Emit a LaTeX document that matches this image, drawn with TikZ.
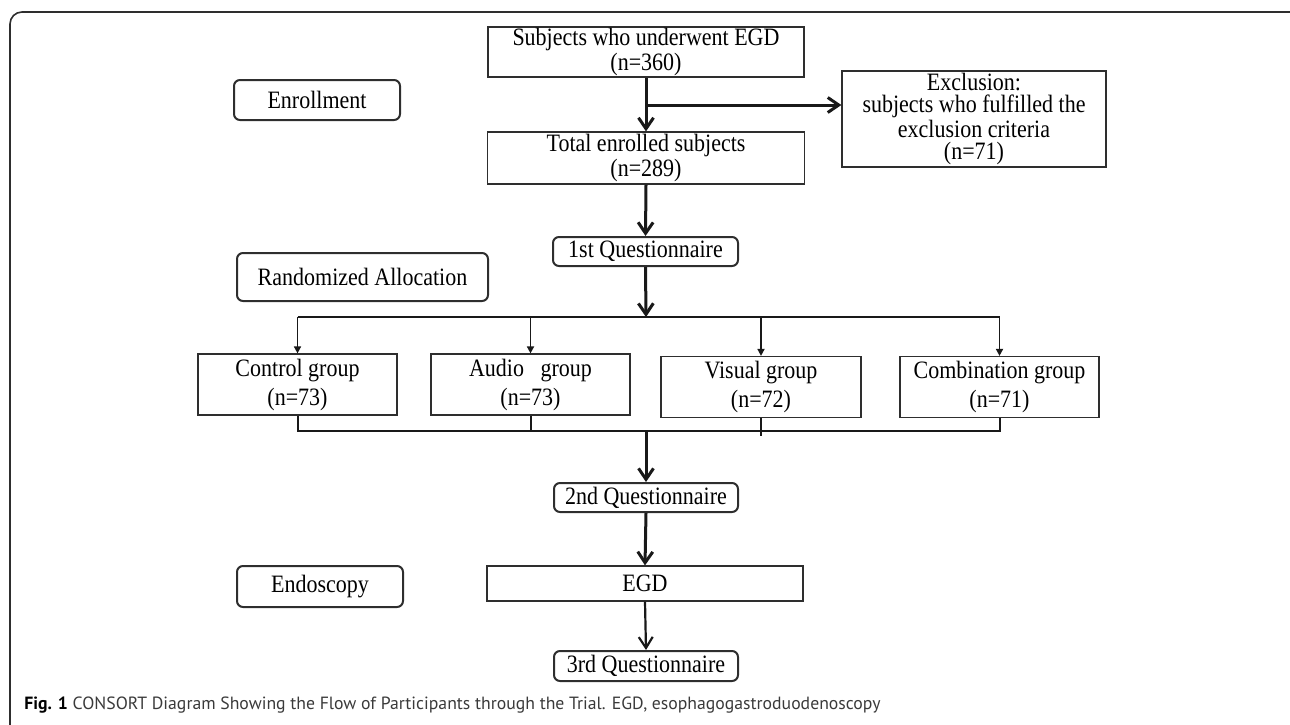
\documentclass[tikz,border=0pt]{standalone}
\usepackage{fontspec}
\setmainfont{Liberation Serif}[FakeStretch=0.88]
\newfontfamily\capfont{PT Sans}
\usetikzlibrary{arrows.meta}
\definecolor{bd}{HTML}{2E2E2E}
\definecolor{captxt}{HTML}{3A3A3A}
\begin{document}
\begin{tikzpicture}[x=0.5pt,y=-0.5pt,
  box/.style={draw=bd, line width=0.6pt, align=center, inner sep=0pt,
    font=\fontsize{12.5}{11}\selectfont},
  rbox/.style={box, rounded corners=3pt, line width=1pt},
  grp/.style={box, font=\fontsize{12.5}{14.5}\selectfont},
  tarr/.style={draw=black!90, line width=1.5pt, -{Straight Barb[length=5.5pt,width=7.5pt]}},
  marr/.style={draw=black!90, line width=1.1pt, -{Straight Barb[length=5.5pt,width=7pt]}},
  sarr/.style={draw=black!90, line width=0.8pt, -{Triangle[length=3.5pt,width=3.5pt]}},
  link/.style={draw=black!90, line width=1pt},
  frame/.style={draw=bd, line width=0.8pt, rounded corners=6pt}
]
\useasboundingbox (0,0) rectangle (1290,724);
\clip (0,0) rectangle (1290,724);
\draw[frame] (10,12) rectangle (1302,744);

% stage labels
\node[rbox, minimum width=83pt, minimum height=20pt] (enr) at (317,100) {Enrollment};
\node[rbox, minimum width=125.5pt, minimum height=24pt] (rand) at (362.5,277) {Randomized Allocation};
\node[rbox, minimum width=83pt, minimum height=20.5pt] (endo) at (320,586.5) {Endoscopy};

% main flow
\node[box, minimum width=158pt, minimum height=25pt] (top) at (646,52) {Subjects who underwent EGD\\(n=360)};
\node[box, minimum width=132pt, minimum height=48pt] (excl) at (974,119) {Exclusion:\\subjects who fulfilled the\\exclusion criteria\\(n=71)};
\node[box, minimum width=158.5pt, minimum height=26pt] (total) at (646,158) {Total enrolled subjects\\(n=289)};
\node[rbox, minimum width=92.5pt, minimum height=14.5pt] (q1) at (645.5,251.5) {1st Questionnaire};

\node[grp, minimum width=99.5pt, minimum height=30.5pt] (ctrl) at (297.5,384.5) {Control group\\(n=73)};
\node[grp, minimum width=99.5pt, minimum height=30.5pt] (audio) at (530.5,384.5) {Audio\ \ \ group\\(n=73)};
\node[grp, minimum width=100pt, minimum height=30.5pt] (visual) at (761,387) {Visual group\\(n=72)};
\node[grp, minimum width=99.5pt, minimum height=30.5pt] (comb) at (999.5,387) {Combination group\\(n=71)};

\node[rbox, minimum width=92pt, minimum height=14.5pt] (q2) at (646,497.5) {2nd Questionnaire};
\node[box, minimum width=158pt, minimum height=17.5pt] (egd) at (645,583.5) {EGD};
\node[rbox, minimum width=92pt, minimum height=15pt] (q3) at (646,666) {3rd Questionnaire};

% connectors
\coordinate (br) at (646,105);
\coordinate (dist) at (646,317);
\coordinate (join) at (646,431);
\draw[tarr] (top.south) -- (total.north);
\draw[tarr] (br) -- (br -| excl.west);
\draw[tarr] (total.south) -- (q1.north);
\draw[tarr] (q1.south) -- (dist);
\draw[link] (ctrl.north |- dist) -- (comb.north |- dist);
\foreach \n in {ctrl,audio,visual,comb}
  \draw[sarr] (\n.north |- dist) -- (\n.north);
\draw[link] (ctrl.south) -- (ctrl.south |- join) -- (comb.south |- join) -- (comb.south);
\draw[link] (audio.south) -- (audio.south |- join);
\draw[link] (visual.south) -- ([yshift=-2.5pt]visual.south |- join);
\draw[tarr] (join) -- (q2.north);
\draw[tarr] (q2.south) -- (egd.north);
\draw[marr] (egd.south) -- (q3.north);

% caption
\node[anchor=west, inner sep=0pt, text=captxt, font=\capfont\fontsize{8.85}{10}\selectfont] (cap) at (24,705)
  {\textcolor{black}{\textbf{Fig. 1}} CONSORT Diagram Showing the Flow of Participants through the Trial. EGD, esophagogastroduodenoscopy};
\end{tikzpicture}
\end{document}
